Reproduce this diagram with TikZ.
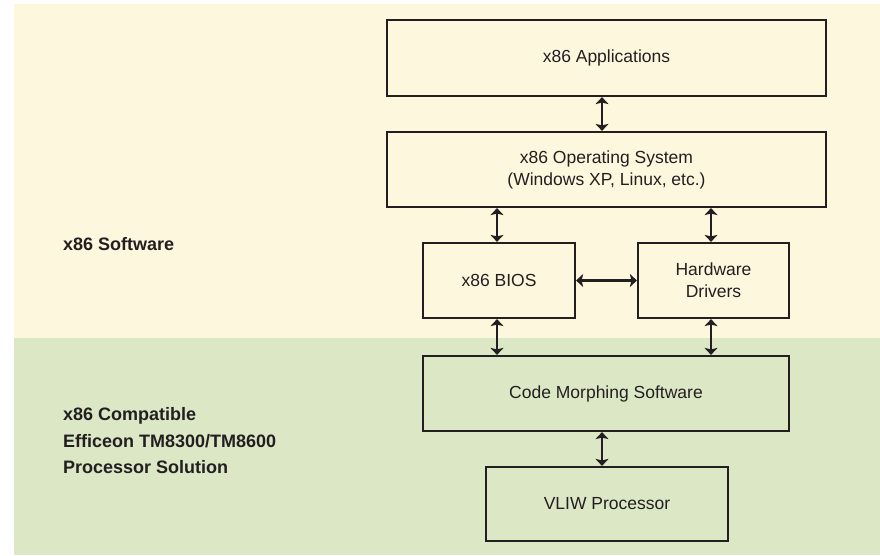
\documentclass[tikz,border=0pt]{standalone}
\usepackage{fontspec}
\setmainfont{Liberation Sans}
\usetikzlibrary{arrows.meta}
\definecolor{cream}{HTML}{FDF7DE}
\definecolor{sage}{HTML}{DCE7C6}
\definecolor{ink}{HTML}{231F20}
\tikzset{
  blk/.style={draw=ink, line width=2.2pt, text=ink, align=center,
    font=\fontsize{17.5}{22}\selectfont},
  lbl/.style={anchor=west, inner sep=0pt, text=ink, align=left,
    font=\fontsize{18}{26.5}\selectfont\bfseries},
  dbl/.style={ink, line width=2.4pt,
    {Stealth[length=7pt,width=13pt,inset=1.5pt]}-{Stealth[length=7pt,width=13pt,inset=1.5pt]}}
}

\begin{document}
\begin{tikzpicture}[x=1pt,y=-1pt]
      \useasboundingbox (0,0) rectangle (880,556);
      \fill[cream] (14,4.5) rectangle (880,338);
      \fill[sage] (14,338) rectangle (880,555);
      \node[blk, minimum width=439pt, minimum height=76pt] (apps) at (606.5,58) {x86 Applications};
      \node[blk, minimum width=439pt, minimum height=75pt] (os) at (606.5,169.5) {x86 Operating System\\(Windows XP, Linux, etc.)};
      \node[blk, minimum width=152pt, minimum height=75pt] (bios) at (499,280.5) {x86 BIOS};
      \node[blk, minimum width=151pt, minimum height=75pt] (hw) at (713.5,280.5) {Hardware\\Drivers};
      \node[blk, minimum width=366pt, minimum height=75pt] (cms) at (606,393.5) {Code Morphing Software};
      \node[blk, minimum width=242pt, minimum height=74pt] (vliw) at (607,504) {VLIW Processor};
      \node[lbl] (sw) at (63,244) {x86 Software};
      \node[lbl] (efficeon) at (63,441) {x86 Compatible\\Efficeon TM8300/TM8600\\Processor Solution};
      \draw[dbl] ([xshift=-4.5pt]apps.south) -- ([xshift=-4.5pt]os.north);
      \draw[dbl] ([xshift=-2pt]os.south -| bios.north) -- ([xshift=-2pt]bios.north);
      \draw[dbl] ([xshift=-2.5pt]os.south -| hw.north) -- ([xshift=-2.5pt]hw.north);
      \draw[dbl] (bios.east) -- (hw.west);
      \draw[dbl] ([xshift=-2pt]bios.south) -- ([xshift=-2pt]bios.south |- cms.north);
      \draw[dbl] ([xshift=-2.5pt]hw.south) -- ([xshift=-2.5pt]hw.south |- cms.north);
      \draw[dbl] ([xshift=-5pt]cms.south -| vliw.north) -- ([xshift=-5pt]vliw.north);
\end{tikzpicture}
\end{document}
